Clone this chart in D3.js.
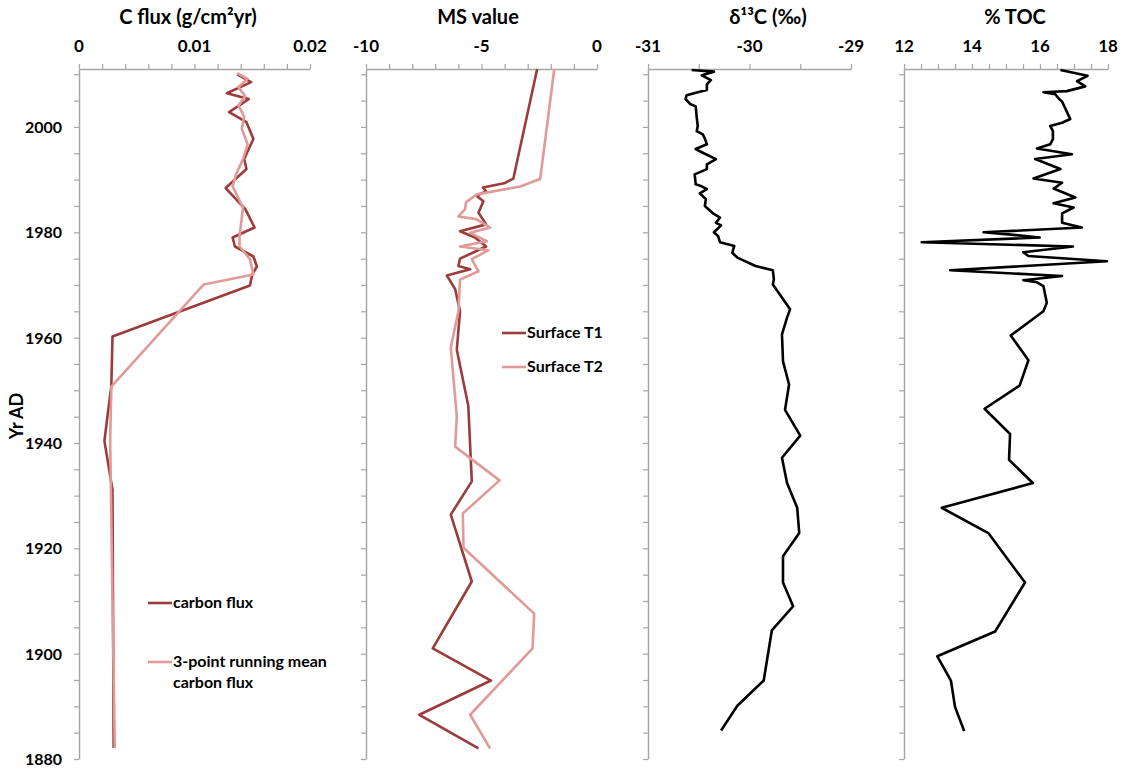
<!DOCTYPE html>
<html><head><meta charset="utf-8">
<script src="https://cdn.jsdelivr.net/npm/d3@7"></script>
<style>
body{margin:0;background:#fff;}
text{font-family:Lato,"Open Sans",sans-serif;font-weight:bold;fill:#000;}
</style>
</head><body>
<svg id="c" width="1124" height="776"></svg>
<script>
// ---- data: [year AD, value] ----
const carbonFlux = [[2010.0,0.0137],[2008.5,0.0149],[2006.4,0.0128],[2005.3,0.0147],[2002.8,0.0130],[2000.9,0.0145],[1997.7,0.0151],[1993.9,0.0143],[1992.0,0.0145],[1988.4,0.0127],[1984.4,0.0144],[1980.9,0.0152],[1979.0,0.0133],[1977.3,0.0135],[1975.4,0.0151],[1973.5,0.0154],[1972.0,0.0150],[1969.9,0.0148],[1960.2,0.0029],[1950.9,0.0028],[1940.4,0.0022],[1931.1,0.0029],[1882.1,0.0030]];
const carbonFluxMean = [[2010.2,0.0137],[2009.1,0.0146],[2007.6,0.0138],[2005.8,0.0144],[2004.1,0.0138],[2002.0,0.0143],[1999.6,0.0141],[1996.7,0.0146],[1993.9,0.0142],[1991.0,0.0136],[1988.7,0.0133],[1984.7,0.0142],[1979.2,0.0139],[1977.3,0.0139],[1974.9,0.0148],[1972.0,0.0151],[1970.1,0.0108],[1950.7,0.0028],[1940.6,0.0027],[1910.2,0.0029],[1882.1,0.0031]];
const msT1 = [[2011.0,-2.59],[1990.2,-3.62],[1989.3,-4.02],[1988.5,-4.94],[1987.8,-4.80],[1986.9,-5.20],[1985.9,-4.92],[1983.7,-5.13],[1981.5,-4.80],[1980.2,-5.93],[1979.0,-5.28],[1977.3,-4.80],[1975.0,-5.93],[1973.6,-6.00],[1973.0,-5.49],[1971.8,-6.50],[1969.2,-6.14],[1965.0,-5.93],[1957.7,-6.07],[1947.0,-5.57],[1932.7,-5.42],[1926.4,-6.33],[1913.7,-5.42],[1901.0,-7.11],[1894.9,-4.59],[1888.4,-7.69],[1882.0,-5.13]];
const msT2 = [[2011.0,-1.85],[1990.1,-2.46],[1988.7,-3.32],[1987.2,-5.20],[1985.7,-5.67],[1984.4,-5.71],[1983.0,-6.00],[1982.5,-5.23],[1980.9,-4.62],[1979.9,-5.49],[1978.3,-4.77],[1977.3,-5.93],[1976.6,-4.70],[1974.9,-5.42],[1972.6,-5.13],[1971.0,-5.93],[1965.0,-6.00],[1958.1,-6.33],[1945.1,-6.07],[1939.3,-6.14],[1932.9,-4.22],[1926.6,-5.81],[1920.1,-5.78],[1907.6,-2.72],[1901.0,-2.79],[1888.4,-5.49],[1882.0,-4.63]];
const d13C = [[2010.8,-30.57],[2010.5,-30.35],[2009.8,-30.47],[2008.9,-30.38],[2008.1,-30.42],[2007.0,-30.42],[2006.7,-30.49],[2006.0,-30.62],[2005.3,-30.63],[2004.3,-30.58],[2003.9,-30.53],[2001.8,-30.52],[2000.2,-30.51],[1999.2,-30.52],[1998.6,-30.46],[1997.8,-30.44],[1996.7,-30.42],[1995.8,-30.53],[1995.0,-30.45],[1993.9,-30.33],[1992.9,-30.42],[1992.0,-30.42],[1991.0,-30.54],[1989.1,-30.53],[1988.8,-30.48],[1988.2,-30.42],[1987.4,-30.49],[1986.3,-30.43],[1985.0,-30.44],[1983.6,-30.36],[1982.8,-30.29],[1981.8,-30.33],[1981.3,-30.28],[1980.0,-30.35],[1979.3,-30.31],[1978.1,-30.29],[1977.4,-30.15],[1976.1,-30.17],[1975.2,-30.12],[1973.6,-29.94],[1972.8,-29.77],[1971.1,-29.76],[1970.1,-29.77],[1965.4,-29.60],[1963.8,-29.63],[1960.6,-29.68],[1955.5,-29.67],[1951.1,-29.61],[1946.3,-29.65],[1941.4,-29.50],[1937.2,-29.68],[1932.4,-29.63],[1927.7,-29.53],[1922.9,-29.51],[1918.5,-29.67],[1913.5,-29.67],[1909.0,-29.57],[1904.4,-29.78],[1894.9,-29.86],[1890.1,-30.12],[1885.4,-30.28]];
const toc = [[2010.8,16.60],[2009.7,17.40],[2008.7,17.09],[2007.7,17.33],[2006.8,16.79],[2006.6,16.10],[2006.2,16.45],[2005.4,16.55],[2004.8,16.65],[2001.5,16.89],[2000.8,16.65],[2000.2,16.30],[1999.2,16.38],[1997.7,16.38],[1996.7,16.30],[1995.9,15.91],[1994.8,16.94],[1993.9,15.86],[1992.0,16.60],[1990.2,15.81],[1989.4,16.65],[1988.3,16.40],[1986.6,17.04],[1985.5,16.40],[1984.7,16.99],[1983.6,16.65],[1981.8,16.65],[1980.9,17.23],[1980.0,14.34],[1979.6,15.07],[1979.0,15.99],[1978.1,12.52],[1977.3,16.97],[1976.2,15.51],[1975.5,15.66],[1974.5,17.97],[1972.8,13.36],[1971.7,16.65],[1970.9,15.51],[1970.5,15.91],[1969.8,16.10],[1966.6,16.20],[1965.0,16.10],[1960.4,15.14],[1955.7,15.66],[1950.9,15.40],[1946.5,14.37],[1941.7,15.12],[1936.8,15.09],[1932.4,15.79],[1927.7,13.11],[1922.9,14.48],[1913.5,15.56],[1904.2,14.68],[1899.5,12.98],[1894.9,13.38],[1889.9,13.50],[1885.3,13.77]];

const yearLabels = [1880,1900,1920,1940,1960,1980,2000];
const titles = ["C flux (g/cm\u00B2yr)","MS value","\u03B4\u00B9\u00B3C (\u2030)","% TOC"];
const xLabels = [[0,0.01,0.02],[-10,-5,0],[-31,-30,-29],[12,14,16,18]];
const legend1 = ["carbon flux",["3-point running mean","carbon flux"]];
const legend2 = ["Surface T1","Surface T2"];

// ---- layout ----
const DARK = "#9b3b3a", PINK = "#e09a98", AXIS = "#a6a6a6";
const svg = d3.select("#c");
const yTop = 69, yBot = 759;
const y = d3.scaleLinear().domain([1880, 2011]).range([yBot, yTop]);

const panels = [
  {dom:[0,0.02], r:[79,310], step:0.002, tx:188, series:[[carbonFlux,DARK],[carbonFluxMean,PINK]]},
  {dom:[-10,0], r:[366,597], step:1, tx:478, series:[[msT1,DARK],[msT2,PINK]]},
  {dom:[-31,-29], r:[648,851], step:0.5, tx:768, series:[[d13C,"#000"]]},
  {dom:[12,18], r:[904,1108], step:0.5, tx:1015, series:[[toc,"#000"]]}
];

panels.forEach((p,i)=>{
  const x = d3.scaleLinear().domain(p.dom).range(p.r);
  const n = Math.round((p.dom[1]-p.dom[0])/p.step);
  const minor = d3.range(0,n+1).map(k=>p.dom[0]+k*p.step);
  const gx = svg.append("g").attr("transform",`translate(0,${yTop})`)
    .call(d3.axisTop(x).tickValues(minor).tickSize(5).tickSizeOuter(0).tickFormat(""));
  const gy = svg.append("g").attr("transform",`translate(${p.r[0]},0)`)
    .call(d3.axisLeft(y).tickValues(d3.range(1880,2011,5)).tickSize(5).tickSizeOuter(0).tickFormat(""));
  [gx,gy].forEach(g=>{
    g.select(".domain").attr("stroke",AXIS).attr("stroke-width",1.5);
    g.selectAll(".tick line").attr("stroke",AXIS).attr("stroke-width",1.2);
  });
  svg.append("g").selectAll("text").data(xLabels[i]).join("text")
    .attr("x",d=>x(d)).attr("y",52).attr("text-anchor","middle")
    .style("font-size","17px").text(d=>d);
  svg.append("text").attr("x",p.tx).attr("y",24).attr("text-anchor","middle")
    .style("font-size","20px").text(titles[i]);
  const line = d3.line().x(d=>x(d[1])).y(d=>y(d[0]));
  p.series.forEach(([data,col])=>{
    svg.append("path").datum(data).attr("d",line).attr("fill","none")
      .attr("stroke",col).attr("stroke-width",2.6).attr("stroke-linejoin","round");
  });
});

// y labels
svg.append("g").selectAll("text").data(yearLabels).join("text")
  .attr("x",62).attr("y",d=>y(d)+6).attr("text-anchor","end")
  .style("font-size","16px").text(d=>d);
svg.append("text").attr("transform","translate(23,416) rotate(-90)")
  .attr("text-anchor","middle").style("font-size","18px").text("Yr AD");

// legends
function legItem(x0,yy,col,lines){
  svg.append("line").attr("x1",x0).attr("x2",x0+24).attr("y1",yy).attr("y2",yy)
    .attr("stroke",col).attr("stroke-width",2.6);
  const t = svg.append("text").attr("x",x0+25).attr("y",yy+5).style("font-size","16px");
  [].concat(lines).forEach((s,k)=>t.append("tspan").attr("x",x0+25).attr("dy",k?21:0).text(s));
}
legItem(148,603,DARK,legend1[0]);
legItem(148,662,PINK,legend1[1]);
legItem(502,333,DARK,legend2[0]);
legItem(502,367,PINK,legend2[1]);
</script>
</body></html>
